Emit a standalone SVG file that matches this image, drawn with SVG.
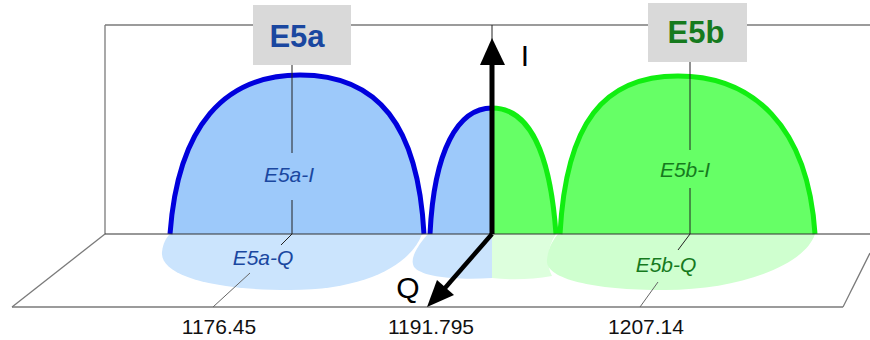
<svg xmlns="http://www.w3.org/2000/svg" width="870" height="340" viewBox="0 0 870 340">
  <style>
    .frame { stroke: #7a7a7a; stroke-width: 1.3; fill: none; }
    .base { stroke: #333; stroke-width: 1.2; fill: none; }
    .lead { stroke: #222; stroke-width: 1; fill: none; }
    .leadq { stroke: #666; stroke-width: 1; fill: none; }
    .bfill { fill: #9dc9fa; stroke: none; }
    .gfill { fill: #66ff66; stroke: none; }
    .bstroke { stroke: #0000dd; stroke-width: 5; fill: none; stroke-linejoin: round; }
    .gstroke { stroke: #11ee11; stroke-width: 5; fill: none; stroke-linejoin: round; }
    .bq { fill: #cbe4fd; stroke: none; }
    .gq { fill: #cfffcf; stroke: none; }
    .gq2 { fill: #ddffdd; stroke: none; }
    .box { fill: #d9d9d9; }
    .ttl { font-family: "Liberation Sans", Arial, sans-serif; font-weight: bold; font-size: 31px; text-anchor: middle; }
    .lbl { font-family: "Liberation Sans", Arial, sans-serif; font-style: italic; font-size: 21px; text-anchor: middle; }
    .ax { font-family: "Liberation Sans", Arial, sans-serif; font-size: 30px; text-anchor: middle; fill: #000; }
    .tick { font-family: "Liberation Sans", Arial, sans-serif; font-size: 21px; text-anchor: middle; fill: #111; }
    .blue { fill: #1a47a0; }
    .green { fill: #167a1e; }
  </style>

  <!-- frame / planes -->
  <g id="frame">
    <line class="frame" x1="105" y1="25" x2="870" y2="25"/>
    <line class="frame" x1="105" y1="25" x2="105" y2="234"/>
    <line class="frame" x1="105" y1="234" x2="12" y2="307"/>
    <line class="frame" x1="12" y1="307" x2="843" y2="307"/>
    <line class="frame" x1="843" y1="307" x2="870" y2="253"/>
  </g>

  <!-- Q lobes (floor) -->
  <g id="q-lobes">
    <path class="bq" d="M170,234 L422,234 C 412,262 370,290 290,290 C 210,290 160,275 162,252 C 163,243 166,238 170,234 Z"/>
    <path class="bq" d="M428,234 L492,234 L492,278 C 460,280 425,278 415,268 C 408,260 418,245 428,234 Z"/>
    <path class="gq2" d="M492,234 L556,234 C 548,246 545,262 552,276 C 530,280 510,280 492,278 Z"/>
    <path class="gq" d="M558,234 L815,234 C 805,265 740,290 665,290 C 590,290 545,278 547,260 C 548,248 553,240 558,234 Z"/>
  </g>

  <!-- I lobes -->
  <g id="i-lobes">
    <path class="bfill" d="M170,234 C 178,125 225,75 300,75 C 378,75 418,125 424,234 Z"/>
    <path class="bfill" d="M430,234 C 434,150 458,108 492,108 L492,234 Z"/>
    <path class="gfill" d="M492,108 C 528,108 550,150 556,234 L492,234 Z"/>
    <path class="gfill" d="M560,234 C 566,122 604,76 678,76 C 752,76 808,125 815,234 Z"/>
    <path class="bstroke" d="M170,234 C 178,125 225,75 300,75 C 378,75 418,125 424,234"/>
    <path class="bstroke" d="M430,234 C 434,150 458,108 492,108"/>
    <path class="gstroke" d="M492,108 C 528,108 550,150 556,234"/>
    <path class="gstroke" d="M560,234 C 566,122 604,76 678,76 C 752,76 808,125 815,234"/>
  </g>

  <!-- baseline of back plane -->
  <g id="baseline">
    <line class="base" x1="105" y1="234" x2="870" y2="234"/>
  </g>

  <!-- connectors / leader lines -->
  <g id="connectors">
    <line class="lead" x1="292" y1="65" x2="292" y2="153"/>
    <polyline class="lead" points="292,200 292,234 281,245"/>
    <line class="leadq" x1="250" y1="273" x2="213" y2="307"/>
    <line class="lead" x1="690" y1="62" x2="690" y2="150"/>
    <polyline class="lead" points="690,188 690,234 678,250"/>
    <line class="leadq" x1="658" y1="282" x2="640" y2="307"/>
    <line class="lead" x1="492" y1="25" x2="492" y2="40"/>
    <!-- I axis -->
    <line x1="492" y1="234" x2="492" y2="62" stroke="#000" stroke-width="5"/>
    <polygon points="492,38 480,65 505,65" fill="#000"/>
    <!-- Q axis -->
    <line x1="492" y1="234" x2="445" y2="288" stroke="#000" stroke-width="4.5"/>
    <polygon points="427,307 437,280 454,295" fill="#000"/>
  </g>

  <g id="E5a">
    <rect class="box" x="253" y="5" width="98" height="60"/>
    <text class="ttl blue" x="297" y="47">E5a</text>
  </g>
  <g id="E5b">
    <rect class="box" x="648" y="3" width="99" height="59"/>
    <text class="ttl green" x="696" y="43">E5b</text>
  </g>
  <g id="E5a-I"><text class="lbl blue" x="289" y="182">E5a-I</text></g>
  <g id="E5a-Q"><text class="lbl blue" x="263" y="265" font-size="22">E5a-Q</text></g>
  <g id="E5b-I"><text class="lbl green" x="685" y="177">E5b-I</text></g>
  <g id="E5b-Q"><text class="lbl green" x="666" y="272" font-size="22">E5b-Q</text></g>
  <g id="axis-labels">
    <text class="ax" x="525" y="66">I</text>
    <text class="ax" x="408" y="298">Q</text>
  </g>
  <g id="ticks">
    <text class="tick" x="219" y="334">1176.45</text>
    <text class="tick" x="431" y="334">1191.795</text>
    <text class="tick" x="646" y="334">1207.14</text>
  </g>
</svg>
